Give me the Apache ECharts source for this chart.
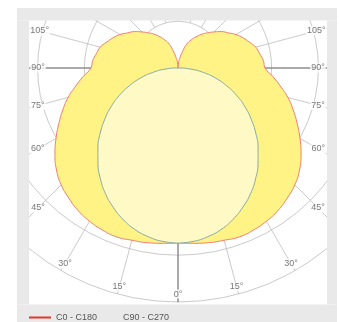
<!DOCTYPE html>
<html>
<head>
<meta charset="utf-8">
<script src="https://cdn.jsdelivr.net/npm/echarts@6/dist/echarts.min.js"></script>
<style>
  html, body { margin: 0; padding: 0; background: #fff; }
  #chart { width: 339px; height: 322px; }
</style>
</head>
<body>
<div id="chart"></div>
<script>
// polar angles (deg from nadir) and intensities
const c0Angles = [0, 5, 10, 15, 20, 25, 30, 35, 40, 45, 50, 55, 60, 65, 70, 75, 80, 85, 90,
  95, 100, 105, 110, 115, 120, 125, 130, 135, 140, 145, 150, 155, 160, 165, 170, 175, 180];
const c0Values = [374, 376, 379, 381, 384, 382, 378, 372, 363, 353, 339, 321, 301, 281, 262, 243, 222, 203, 186,
  183, 177, 172, 162, 153, 143, 131, 121, 109, 98, 88, 77, 66, 54, 36, 21, 11, 0];

const c90Angles = [0, 5, 10, 15, 20, 25, 30, 35, 40, 45, 50, 55, 60, 65, 70, 75, 80, 85, 90];
const c90Values = [374, 372, 366, 357, 344, 328, 310, 289, 266, 242, 217, 191, 165, 138, 110, 83, 55, 28, 0];

// angle labels and where they sit along their spoke
const tickAngles = [0, 15, 30, 45, 60, 75, 90, 105];
const tickLabels = ['0°', '15°', '30°', '45°', '60°', '75°', '90°', '105°'];
const tickRadii = [483, 484, 483, 423, 346, 310, 299, 306];

const FONT = '"Liberation Sans Narrow", "Liberation Sans", Arial, sans-serif';

// mirror one half plane onto the other (symmetric curve)
function mirror(angles, values) {
  const out = angles.map((a, i) => [values[i], a]);
  for (let i = angles.length - 2; i >= 0; i--) {
    out.push([values[i], 360 - angles[i]]);
  }
  return out;
}

const labelData = [];
tickAngles.forEach((a, i) => {
  labelData.push({ name: tickLabels[i], value: [tickRadii[i], a] });
  if (a !== 0) labelData.push({ name: tickLabels[i], value: [tickRadii[i], 360 - a] });
});

const chart = echarts.init(document.getElementById('chart'));

const center = [178, 68];
const R = 234;

chart.setOption({
  animation: false,
  backgroundColor: '#fff',
  polar: [
    { center: center, radius: [R / 5, R] }, // grid rings + spokes
    { center: center, radius: R }          // data
  ],
  radiusAxis: [
    {
      polarIndex: 0, type: 'value', min: 100, max: 500, interval: 100,
      axisLine: { show: false }, axisTick: { show: false }, axisLabel: { show: false },
      splitLine: { show: true, lineStyle: { color: '#bcbcbc', width: 0.8 } }
    },
    { polarIndex: 1, type: 'value', min: 0, max: 500, show: false }
  ],
  angleAxis: [
    {
      polarIndex: 0, type: 'value', min: 0, max: 360, interval: 15, startAngle: 270,
      axisLine: { show: false }, axisTick: { show: false }, axisLabel: { show: false },
      splitLine: { show: true, lineStyle: { color: '#bcbcbc', width: 0.8 } }
    },
    { polarIndex: 1, type: 'value', min: 0, max: 360, startAngle: 270, show: false }
  ],
  legend: {
    z: 200,
    left: 29,
    top: 313,
    padding: 0,
    itemGap: -1,
    itemWidth: 22,
    itemHeight: 2,
    textStyle: { fontFamily: FONT, fontSize: 9, color: '#555' },
    data: [
      { name: 'C0 - C180', icon: 'rect', itemStyle: { color: '#e8342c' } },
      { name: 'C90 - C270', icon: 'none' }
    ]
  },
  series: [
    {
      name: 'axes', type: 'line', coordinateSystem: 'polar', polarIndex: 1, z: 1,
      symbol: 'none', silent: true,
      lineStyle: { color: '#6f6f6f', width: 1 },
      data: [[0, 90], [500, 90], null, [0, 270], [500, 270], null, [0, 0], [500, 0]]
    },
    {
      name: 'C0 - C180', type: 'line', coordinateSystem: 'polar', polarIndex: 1, z: 2,
      symbol: 'none', smooth: true,
      lineStyle: { color: '#f07d72', width: 1 },
      areaStyle: { color: '#fff386', opacity: 1 },
      data: mirror(c0Angles, c0Values)
    },
    {
      name: 'C90 - C270', type: 'line', coordinateSystem: 'polar', polarIndex: 1, z: 3,
      symbol: 'none', smooth: true,
      lineStyle: { color: '#86a9a2', width: 1 },
      areaStyle: { color: '#fff9c6', opacity: 1 },
      data: mirror(c90Angles, c90Values)
    },
    {
      name: 'labels', type: 'scatter', coordinateSystem: 'polar', polarIndex: 1, z: 5,
      silent: true, symbolSize: 1,
      itemStyle: { color: 'rgba(0,0,0,0)' },
      label: {
        show: true, position: 'inside', formatter: '{b}',
        fontFamily: FONT, fontSize: 9, color: '#555',
        backgroundColor: '#fff', padding: [0, 1]
      },
      data: labelData
    }
  ],
  // frame around the plot area (also crops the grid)
  graphic: [
    { type: 'rect', z: 100, silent: true, shape: { x: 0, y: 0, width: 17, height: 322 }, style: { fill: '#fff' } },
    { type: 'rect', z: 100, silent: true, shape: { x: 337, y: 0, width: 2, height: 322 }, style: { fill: '#fff' } },
    { type: 'rect', z: 100, silent: true, shape: { x: 17, y: 0, width: 320, height: 8 }, style: { fill: '#fff' } },
    { type: 'rect', z: 100, silent: true, shape: { x: 17, y: 8, width: 320, height: 12.5 }, style: { fill: '#e9e9ea' } },
    { type: 'rect', z: 100, silent: true, shape: { x: 17, y: 20.5, width: 12, height: 284 }, style: { fill: '#e9e9ea' } },
    { type: 'rect', z: 100, silent: true, shape: { x: 327, y: 20.5, width: 10, height: 284 }, style: { fill: '#e9e9ea' } },
    { type: 'rect', z: 100, silent: true, shape: { x: 17, y: 304.5, width: 320, height: 17.5 }, style: { fill: '#e9e9ea' } }
  ]
});
</script>
</body>
</html>
